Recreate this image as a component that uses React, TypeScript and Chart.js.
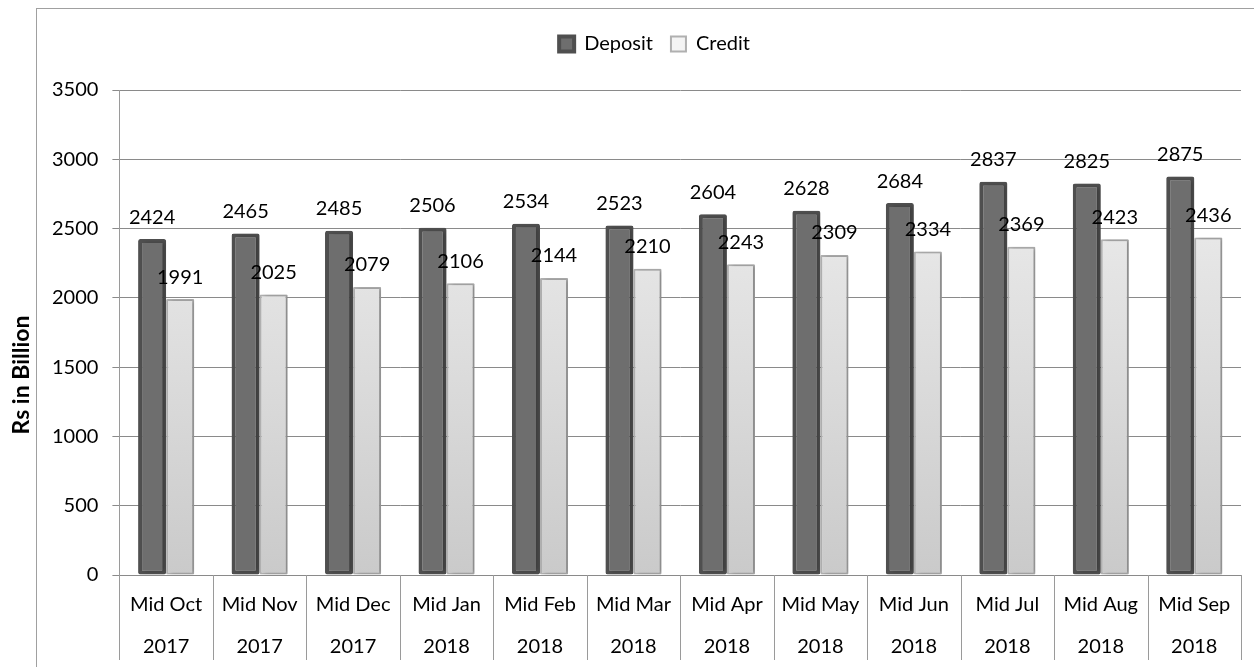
import React, { useEffect, useRef } from "react";
import { Chart, registerables } from "chart.js";

Chart.register(...registerables);

const months = ["Mid Oct", "Mid Nov", "Mid Dec", "Mid Jan", "Mid Feb", "Mid Mar", "Mid Apr", "Mid May", "Mid Jun", "Mid Jul", "Mid Aug", "Mid Sep"];
const years = ["2017", "2017", "2017", "2018", "2018", "2018", "2018", "2018", "2018", "2018", "2018", "2018"];
const deposit = [2424, 2465, 2485, 2506, 2534, 2523, 2604, 2628, 2684, 2837, 2825, 2875];
const credit = [1991, 2025, 2079, 2106, 2144, 2210, 2243, 2309, 2334, 2369, 2423, 2436];
const yTicks = [0, 500, 1000, 1500, 2000, 2500, 3000, 3500];
const yTitle = "Rs in Billion";

const FONT = "Lato, 'Noto Sans', sans-serif";

const valueLabels = {
  id: "valueLabels",
  afterDatasetsDraw(chart: any) {
    const ctx = chart.ctx;
    ctx.save();
    ctx.font = `20px ${FONT}`;
    ctx.fillStyle = "#000";
    ctx.textAlign = "center";
    ctx.textBaseline = "middle";
    chart.data.datasets.forEach((ds: any, di: number) => {
      const meta = chart.getDatasetMeta(di);
      meta.data.forEach((el: any, i: number) => {
        ctx.fillText(String(ds.data[i]), el.x, el.y - 22);
      });
    });
    ctx.restore();
  },
};

const yTitlePlugin = {
  id: "yTitlePlugin",
  afterDraw(chart: any) {
    const ctx = chart.ctx;
    const xs = chart.scales.x;
    const cy = (chart.chartArea.top + xs.top + 85) / 2;
    ctx.save();
    ctx.translate(22, cy);
    ctx.rotate(-Math.PI / 2);
    ctx.font = `bold 23px ${FONT}`;
    ctx.fillStyle = "#000";
    ctx.textAlign = "center";
    ctx.textBaseline = "middle";
    ctx.fillText(yTitle, 0, 0);
    ctx.restore();
  },
};

const dividerPlugin = {
  id: "dividerPlugin",
  afterDraw(chart: any) {
    const ctx = chart.ctx;
    const xs = chart.scales.x;
    const n = chart.data.labels.length;
    const half = (xs.getPixelForValue(1) - xs.getPixelForValue(0)) / 2;
    ctx.save();
    ctx.strokeStyle = "#9a9a9a";
    ctx.lineWidth = 1;
    ctx.beginPath();
    for (let i = 0; i <= n; i++) {
      const x = Math.round(i < n ? xs.getPixelForValue(i) - half : xs.getPixelForValue(n - 1) + half) + 0.5;
      ctx.moveTo(x, xs.top);
      ctx.lineTo(x, xs.top + 85);
    }
    ctx.stroke();
    ctx.restore();
  },
};

const legendGap = {
  id: "legendGap",
  beforeLayout(chart: any) {
    const lg = chart.legend;
    if (lg && !lg._gapPatched) {
      const orig = lg.fit;
      lg.fit = function () {
        orig.call(this);
        this.height += 26;
      };
      const od = lg.draw;
      lg.draw = function () {
        const c = this.ctx;
        c.save();
        c.translate(15, 0);
        od.call(this);
        c.restore();
      };
      lg._gapPatched = true;
    }
  },
};

const shadowPlugin = {
  id: "shadowPlugin",
  beforeDatasetDraw(chart: any) {
    const ctx = chart.ctx;
    ctx.save();
    ctx.shadowColor = "rgba(0,0,0,0.22)";
    ctx.shadowBlur = 4;
    ctx.shadowOffsetX = 3;
    ctx.shadowOffsetY = 0;
  },
  afterDatasetDraw(chart: any) {
    chart.ctx.restore();
  },
};

export default function App() {
  const ref = useRef<HTMLCanvasElement>(null);
  useEffect(() => {
    if (!ref.current) return;
    const creditFill = (c: any) => {
      const area = c.chart.chartArea;
      if (!area) return "#e2e2e2";
      const g = c.chart.ctx.createLinearGradient(0, area.top, 0, area.bottom);
      g.addColorStop(0, "#f4f4f4");
      g.addColorStop(1, "#cacaca");
      return g;
    };
    const chart = new Chart(ref.current, {
      type: "bar",
      data: {
        labels: months.map((m, i) => [m, years[i]]),
        datasets: [
          {
            label: "Deposit",
            data: deposit,
            backgroundColor: "#6e6e6e",
            borderColor: "#4f4f4f",
            borderWidth: 4,
            borderSkipped: false,
            borderRadius: 2,
            categoryPercentage: 0.6,
            barPercentage: 1,
          },
          {
            label: "Credit",
            data: credit,
            backgroundColor: creditFill,
            borderColor: "#b0b0b0",
            borderWidth: 2,
            borderSkipped: false,
            borderRadius: 1,
            categoryPercentage: 0.6,
            barPercentage: 1,
          },
        ],
      },
      options: {
        animation: false,
        responsive: false,
        layout: { padding: { top: 16, left: 38, right: 13, bottom: 0 } },
        plugins: {
          legend: {
            position: "top",
            labels: {
              font: { family: FONT, size: 20 },
              color: "#000",
              boxWidth: 15,
              boxHeight: 15,
              padding: 18,
            },
          },
          tooltip: { enabled: false },
        },
        scales: {
          x: {
            grid: {
              display: false,
              drawOnChartArea: false,
              drawTicks: false,
            },
            border: { display: true, color: "#8a8a8a" },
            ticks: {
              font: { family: FONT, size: 20, lineHeight: 2.1 },
              color: "#000",
              padding: 9,
              maxRotation: 0,
              autoSkip: false,
            },
          },
          y: {
            min: 0,
            max: 3500,
            afterBuildTicks: (s: any) => {
              s.ticks = yTicks.map((v) => ({ value: v }));
            },
            grid: {
              color: "#8a8a8a",
              lineWidth: 1,
              tickLength: 7,
              drawTicks: true,
            },
            border: { display: true, color: "#9a9a9a" },
            ticks: {
              font: { family: FONT, size: 20 },
              color: "#000",
              padding: 14,
              callback: (v: any) => String(v),
            },
          },
        },
      },
      plugins: [valueLabels, yTitlePlugin, dividerPlugin, legendGap, shadowPlugin],
    });
    return () => chart.destroy();
  }, []);

  return (
    <div style={{ position: "fixed", left: 0, top: 0, width: 1254, height: 667, overflow: "hidden", background: "#fff" }}>
      <div
        style={{
          position: "absolute",
          left: 36,
          top: 8,
          width: 1300,
          height: 720,
          border: "1px solid #a0a0a0",
          boxSizing: "border-box",
        }}
      />
      <canvas ref={ref} width={1254} height={677} style={{ position: "absolute", left: 0, top: 0, width: 1254, height: 677 }} />
    </div>
  );
}
